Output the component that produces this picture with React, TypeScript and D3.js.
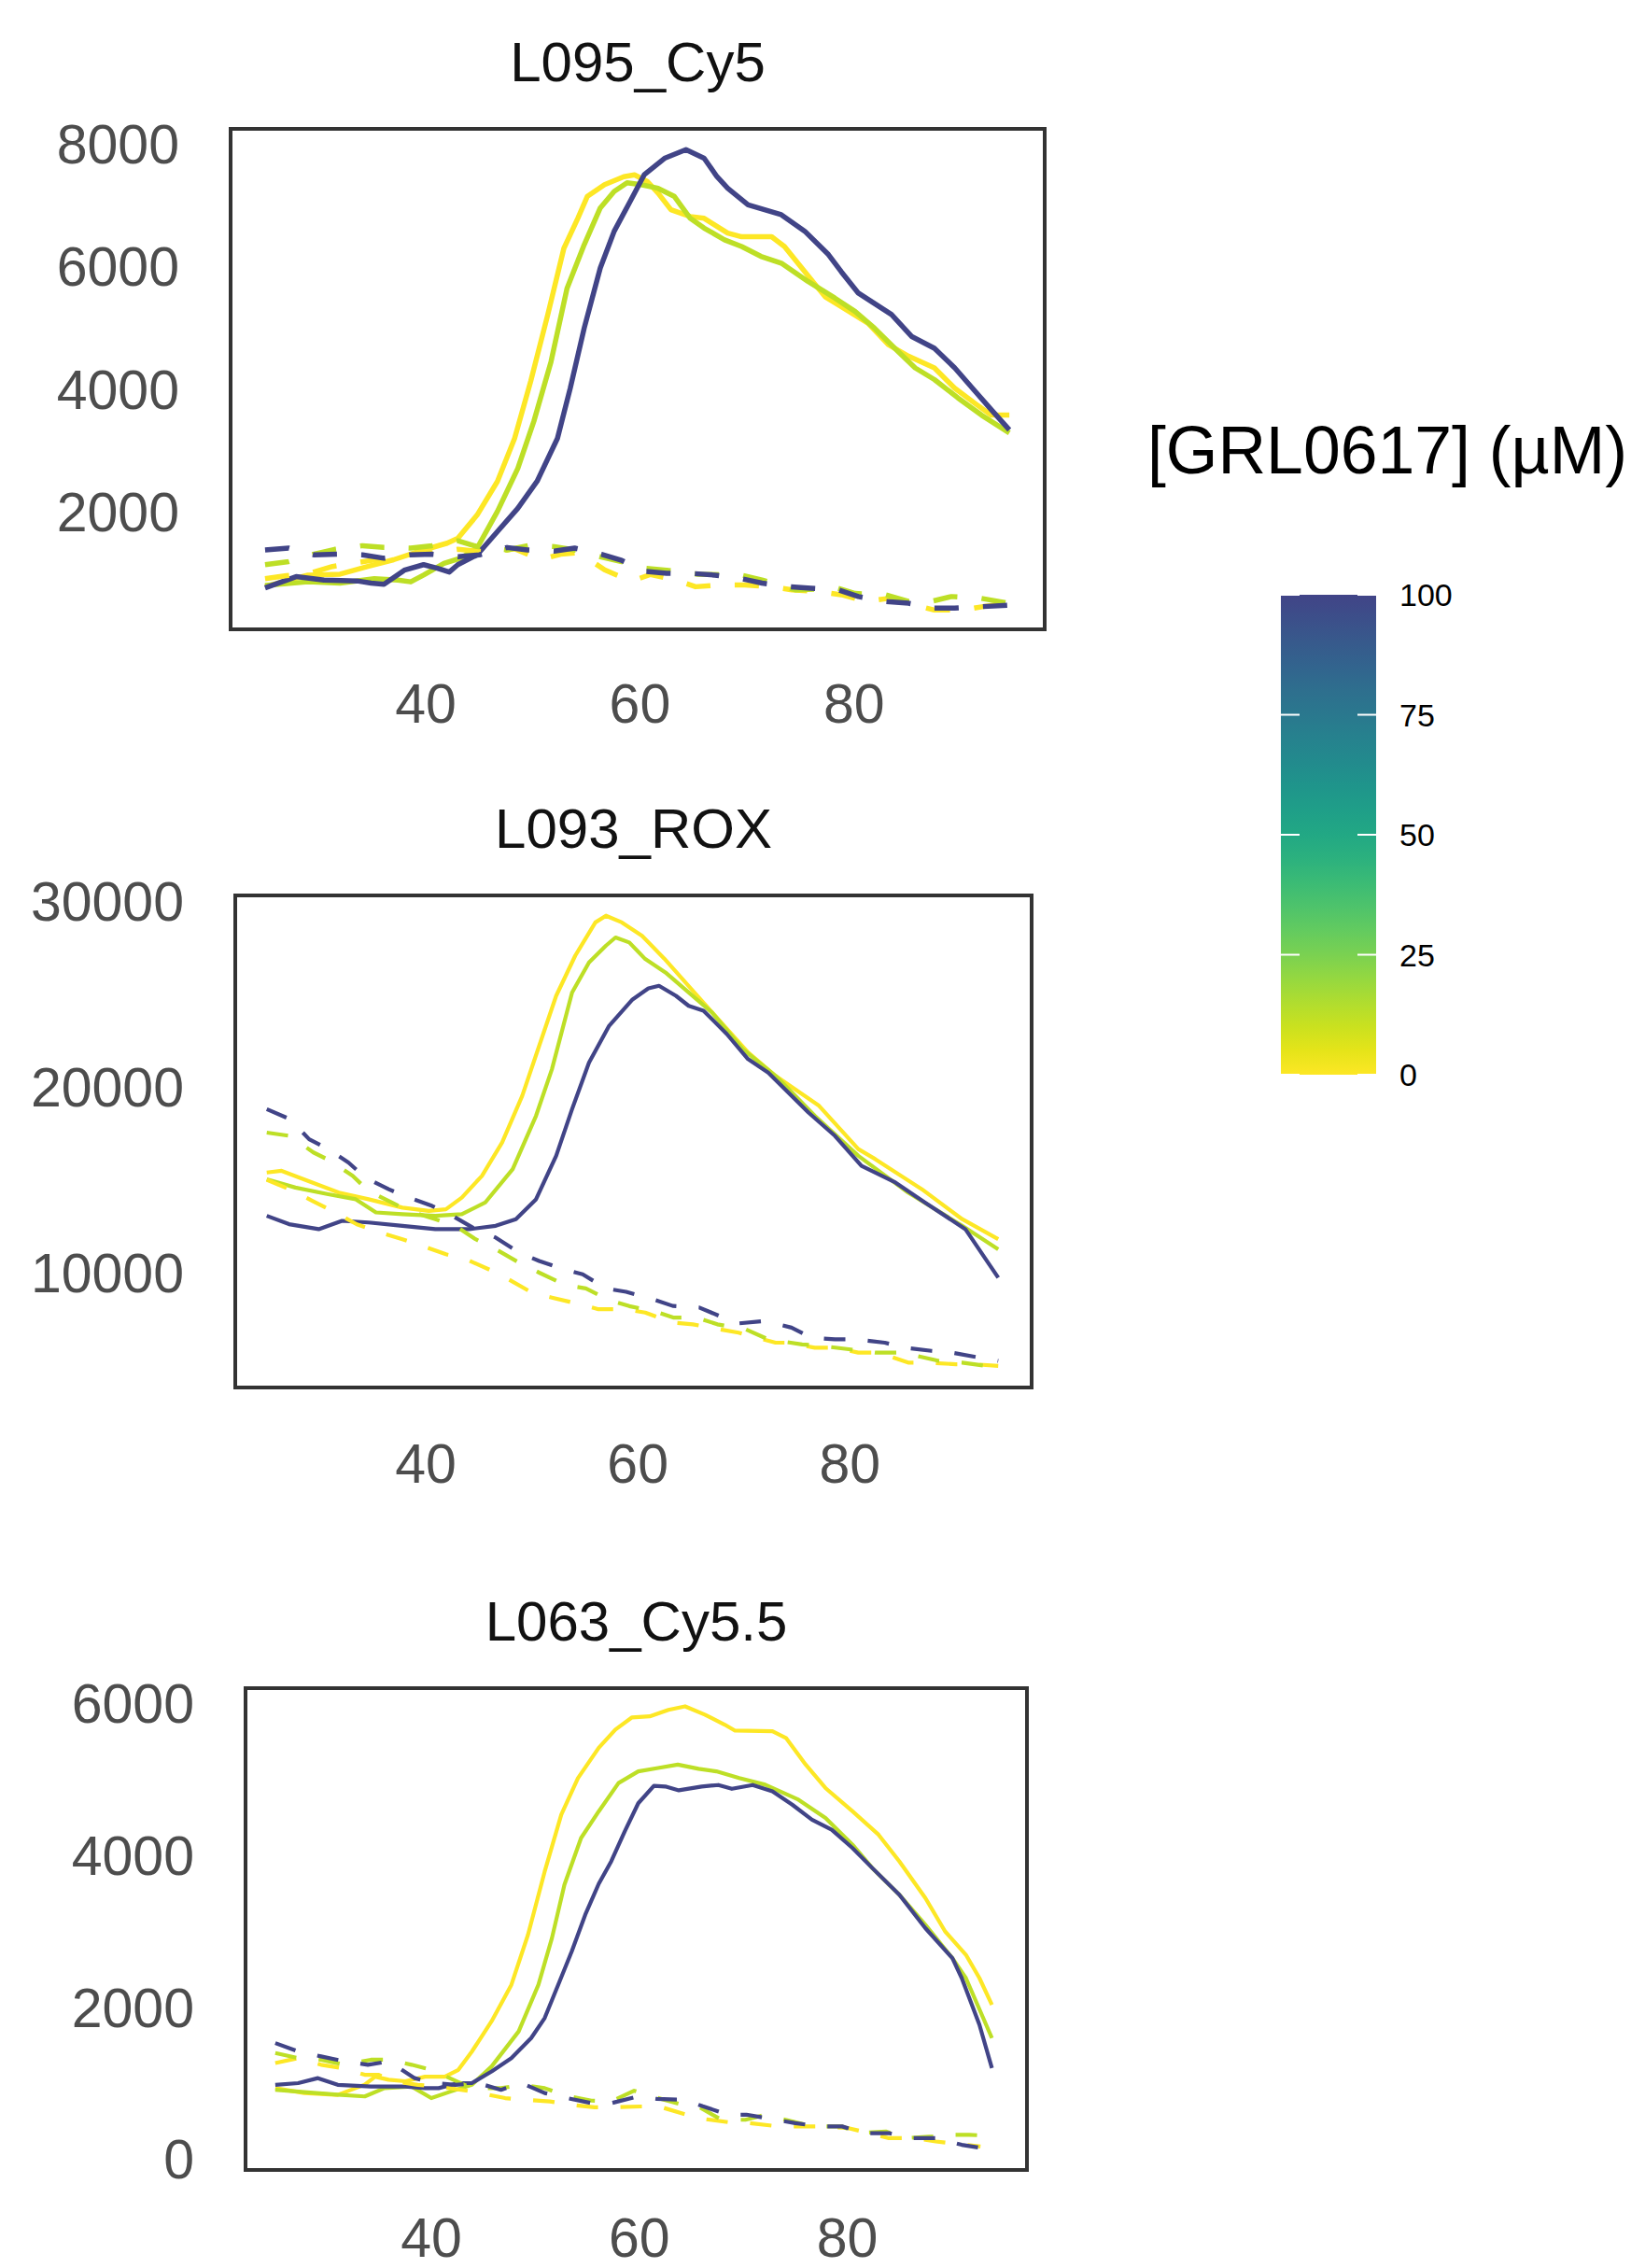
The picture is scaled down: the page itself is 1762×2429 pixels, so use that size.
import React from "react";
import * as d3 from "d3";

// ---------------- DATA ----------------
// concentrations of GRL0617 (µM) shown by colour
const CONCS = [0, 12.5, 100];
const X_TICKS = [40, 60, 80];
const LEGEND_TICKS = [0, 25, 50, 75, 100];
const LEGEND_TITLE = "[GRL0617] (µM)";

// Panel 1: L095_Cy5   [temperature, fluorescence]
const CY5_SOLID_0: [number, number][] = [[25,770],[27,870],[29,960],[32,975],[34.6,1100],[37,1210],[39.8,1370],[42,1480],[43,1560],[44.8,1940],[46.7,2490],[48.3,3190],[49.8,4120],[51.4,5210],[52.9,6290],[54.2,6780],[55.1,7140],[56.7,7330],[58.5,7460],[59.5,7490],[60.7,7380],[61.7,7190],[62.9,6920],[64.7,6810],[66,6780],[68.2,6540],[69.5,6480],[72.3,6480],[73.5,6320],[75.4,5910],[77.3,5500],[78.8,5340],[81.3,5070],[83.2,4720],[85.1,4530],[87.5,4340],[89.4,4010],[91.3,3760],[92.8,3570],[94.5,3570]];
const CY5_SOLID_12: [number, number][] = [[25,790],[29,850],[32,830],[35.2,900],[37.4,880],[38.6,850],[39.8,960],[41.7,1150],[43.3,1240],[44.8,1400],[46.7,2000],[48.6,2700],[50.1,3470],[51.7,4440],[53.2,5640],[54.8,6350],[56.3,6950],[57.6,7220],[58.8,7360],[60.1,7330],[61.7,7270],[63.2,7140],[64.7,6780],[66,6620],[67.9,6430],[69.5,6320],[71.3,6160],[73.2,6050],[75.7,5750],[78.2,5480],[80.1,5260],[81.9,4990],[83.8,4660],[85.7,4340],[87.5,4150],[89.7,3850],[91.9,3570],[94.5,3280]];
const CY5_SOLID_100: [number, number][] = [[25,750],[27.9,935],[30.5,880],[33.6,865],[34.9,830],[36.1,810],[38,1040],[39.8,1130],[41.1,1070],[42.2,1010],[43,1130],[44.8,1290],[46.7,1670],[48.6,2050],[50.4,2490],[52.3,3190],[53.5,4010],[54.8,4990],[56.3,5970],[57.6,6570],[59.1,7060],[60.4,7490],[62.3,7760],[64.3,7900],[66,7760],[67.2,7460],[68.2,7270],[70.1,7000],[73.2,6840],[75.4,6570],[77.6,6190],[78.8,5910],[80.4,5560],[83.5,5210],[85.4,4850],[87.5,4660],[89.4,4340],[91.3,3960],[92.8,3660],[94.5,3330]];
const CY5_DASH_0: [number, number][] = [[25,900],[27,950],[29,980],[31.3,1100],[33,1150],[35,1200],[37,1260],[39,1300],[41,1330],[43,1380],[44.8,1350],[46.4,1340],[48.3,1390],[50.7,1210],[52.6,1300],[54,1320],[55.1,1235],[56.7,1045],[59.2,860],[61,970],[63.3,880],[65.2,770],[67.7,800],[69.8,800],[72.3,770],[74.2,720],[76.7,690],[78.8,640],[81.2,530],[83.2,580],[85.7,470],[87.5,390],[90.2,390],[92.2,450],[94.5,500]];
const CY5_DASH_12: [number, number][] = [[25,1130],[27.2,1180],[29.5,1300],[31.5,1380],[34.1,1440],[36.1,1410],[38.6,1400],[40.6,1440],[43,1520],[44.8,1425],[47.6,1370],[49.8,1450],[52,1425],[53.9,1370],[56.5,1250],[58.3,1180],[60.6,1070],[62.5,1040],[65.4,975],[69.5,960],[71.4,880],[74.5,720],[78.5,745],[80.1,660],[82.9,640],[85.1,530],[87.2,530],[89.1,610],[91.9,580],[94.5,500]];
const CY5_DASH_100: [number, number][] = [[25,1370],[27.2,1400],[29.6,1290],[31.8,1300],[34.1,1290],[36.1,1235],[38.5,1290],[40.6,1300],[43,1260],[45,1290],[47.6,1410],[49.5,1370],[52,1350],[53.9,1400],[56.4,1300],[58.3,1200],[60.5,1020],[62.5,990],[65,985],[67,960],[69.5,900],[71.4,830],[73.9,770],[76,745],[78.5,720],[80.4,610],[82.9,530],[85.1,500],[87.5,420],[89.4,420],[91.9,445],[94.5,470]];

// Panel 2: L093_ROX
const ROX_SOLID_0: [number, number][] = [[25,15390],[26.4,15480],[29.3,14850],[31.8,14310],[34.6,13950],[37.8,13500],[40.3,13320],[41.9,13410],[43.4,14040],[45.3,15210],[47.2,17000],[49.1,19520],[50.7,22210],[52.3,24900],[54.1,27060],[56,28850],[57,29210],[58.5,28850],[60.4,28130],[62.5,26900],[65,25300],[67.5,23700],[70.4,21850],[73,20590],[77.1,18980],[80.8,16650],[82.4,16110],[86.8,14490],[90.6,12880],[94,11800]];
const ROX_SOLID_12: [number, number][] = [[25,15030],[27.7,14580],[30.8,14220],[33.4,13950],[35.3,13240],[37.8,13150],[40.9,13060],[43.4,13150],[45.6,13770],[48.2,15570],[50.4,18440],[51.9,20950],[53.8,25080],[55.4,26700],[57,27600],[57.9,28040],[59.2,27770],[60.7,26880],[62.6,26160],[64.8,25080],[67,24000],[69.9,22030],[73,20590],[76.7,18440],[80.8,16290],[85.5,14310],[90.6,12520],[94,11260]];
const ROX_SOLID_100: [number, number][] = [[25,13060],[27.1,12610],[29.9,12340],[32.1,12790],[34.6,12700],[37.8,12520],[40.9,12340],[44.1,12340],[46.6,12520],[48.5,12880],[50.4,13950],[52.3,16290],[53.8,18800],[55.4,21310],[57.3,23290],[59.5,24700],[61,25300],[62,25440],[63.6,24900],[64.8,24360],[66.2,24100],[68.4,22840],[70.4,21490],[72.3,20770],[76.1,18620],[78.6,17360],[81.1,15750],[84.3,14850],[87.1,13770],[90.9,12340],[94,9730]];
const ROX_DASH_0: [number, number][] = [[25,15000],[27.5,14400],[29.3,13860],[31.2,13320],[33.5,12600],[35.5,12200],[37.8,11800],[39.7,11440],[41.9,10990],[43.8,10720],[46.3,10090],[47.8,9640],[50,8930],[51.9,8660],[54.5,8300],[56.3,8030],[58.9,8030],[60.7,7850],[63.3,7310],[65.2,7220],[67.7,6950],[69.5,6770],[73,6230],[74.2,6230],[76.7,5960],[78.6,5960],[80.8,5700],[82.7,5700],[85.5,5160],[87.4,5160],[90,5070],[91.8,5070],[94,4980]];
const ROX_DASH_12: [number, number][] = [[25,17540],[27.2,17360],[29.4,16470],[31,16020],[33.1,15210],[34.6,14400],[36.8,13770],[38.4,13320],[40.9,12880],[42.8,12520],[44.7,11800],[46.6,11260],[48.8,10540],[50.7,10000],[53.2,9330],[55.1,9150],[57.3,8520],[59.2,8200],[61.7,7900],[63.4,7580],[65.6,7580],[67.5,7220],[70.2,6950],[72.3,6410],[75.5,6140],[77.4,6050],[79.9,5880],[82.4,5700],[84.9,5700],[88.4,5250],[90.6,5160],[94,4890]];
const ROX_DASH_100: [number, number][] = [[25,18800],[27.2,18260],[29,17180],[30.8,16650],[32.7,15930],[34.3,15120],[36.5,14490],[38.4,14040],[40.6,13590],[42.5,13060],[44.7,12340],[46.6,11890],[48.8,11080],[50.7,10630],[53,10180],[54.8,9910],[57,9150],[58.9,8970],[61.4,8570],[63.3,8210],[65.8,8120],[67.7,7670],[69.5,7270],[72,7400],[74.5,7040],[76.4,6500],[78.6,6410],[80.5,6410],[83.3,6230],[85.2,5960],[87.7,5790],[89.6,5700],[92.2,5430],[94,5250]];

// Panel 3: L063_Cy5.5
const CY55_SOLID_0: [number, number][] = [[25,930],[27.8,865],[31,840],[33.6,975],[34.6,1080],[35.9,1040],[37.5,1020],[39.4,1080],[41.3,1080],[42.6,1170],[43.9,1410],[45.8,1810],[47.7,2290],[49.3,2950],[50.9,3780],[52.5,4530],[54.1,5010],[56.1,5410],[57.7,5650],[59.3,5810],[61,5824],[62.8,5910],[64.4,5956],[66.3,5846],[68.2,5715],[69.2,5636],[72.8,5627],[74.1,5539],[76,5188],[77.9,4880],[80.5,4573],[83,4266],[85,3915],[87.5,3432],[89.4,2993],[91.4,2685],[92.7,2378],[93.9,2027]];
const CY55_SOLID_12: [number, number][] = [[25,907],[27.8,877],[31,842],[33.6,820],[35.5,929],[38.1,951],[40,798],[41.9,886],[43.9,973],[45.8,1215],[48.4,1676],[50.3,2290],[51.6,2905],[52.8,3607],[54.4,4222],[56.1,4573],[58,4946],[59.9,5100],[61.8,5144],[63.7,5188],[65.7,5133],[67.4,5100],[69.6,5012],[72.1,4924],[75.3,4727],[77.9,4485],[80.5,4134],[82.4,3827],[85,3476],[87.5,3080],[90.1,2641],[91.4,2378],[93.9,1588]];
const CY55_SOLID_100: [number, number][] = [[25,973],[27.2,995],[29.1,1061],[31,973],[34.2,951],[37.5,951],[39.4,929],[40.7,929],[42.6,995],[43.9,995],[45.8,1149],[47.7,1325],[49.6,1588],[50.9,1852],[52.2,2290],[53.5,2729],[54.8,3212],[56.1,3620],[57.3,3915],[58.6,4310],[59.9,4680],[61.4,4910],[62.5,4900],[63.8,4850],[66,4900],[67.6,4920],[68.9,4870],[70.9,4920],[72.8,4836],[74.7,4661],[76.6,4463],[78.5,4332],[80.5,4090],[82.4,3827],[85,3476],[87.5,3036],[90.1,2641],[91,2378],[92.7,1764],[93.9,1193]];
const CY55_DASH_0: [number, number][] = [[25,1259],[27.2,1325],[29.4,1237],[31.4,1193],[33.6,1105],[34.9,1105],[36.5,1017],[38.7,973],[40.7,951],[43.9,885],[47.1,798],[49,776],[51.4,754],[53.4,710],[55.7,677],[57.6,677],[60.1,688],[61.9,688],[64.8,567],[66.2,524],[68.6,480],[70.6,469],[73.4,425],[77.9,425],[80.1,403],[82.1,337],[84,271],[86.6,271],[88.5,227],[91.4,183],[92.8,161]];
const CY55_DASH_12: [number, number][] = [[25,1391],[27.2,1325],[29.4,1303],[31.7,1237],[34.2,1303],[35.9,1303],[38.1,1237],[40,1171],[43.9,929],[46.7,929],[48.7,973],[50.9,929],[52.9,830],[55.4,765],[57.3,754],[59.5,895],[61.5,810],[63.9,720],[65.5,700],[67.9,513],[70.2,513],[72.1,578],[74.7,491],[76.6,425],[79.5,425],[81.1,337],[83.7,359],[85.6,271],[88.2,293],[89.8,315],[91.7,315],[94,300]];
const CY55_DASH_100: [number, number][] = [[25,1522],[27.2,1413],[29.4,1347],[31.7,1281],[33.9,1237],[35.9,1281],[38.4,1061],[40.3,995],[42.3,973],[44.5,995],[46.7,907],[48.7,995],[50.9,864],[53,800],[55.4,732],[57.3,732],[59.9,820],[61.7,787],[64.4,776],[66.1,690],[68.6,578],[70.3,580],[73.1,513],[75,469],[77.3,425],[79.5,425],[81.7,337],[84,337],[86.2,271],[88.5,271],[91,183],[93,139]];

const CY5_Y_TICKS = [2000, 4000, 6000, 8000];
const ROX_Y_TICKS = [10000, 20000, 30000];
const CY55_Y_TICKS = [0, 2000, 4000, 6000];

// ---------------- LAYOUT ----------------
type Panel = {
  title: string;
  frame: { x0: number; x1: number; y0: number; y1: number };
  xDomain: [number, number];
  yDomain: [number, number];
  yTicks: number[];
  xLabelOffset: number;
  lw: number;
  dash: string;
  solid: [number, number][][];
  dashed: [number, number][][];
};

const PANELS: Panel[] = [
  {
    title: "L095_Cy5",
    frame: { x0: 247, x1: 1119, y0: 138, y1: 674 },
    xDomain: [21.78, 97.8],
    yDomain: [75, 8240],
    yTicks: CY5_Y_TICKS,
    xLabelOffset: 100,
    lw: 5.5,
    dash: "26,26",
    solid: [CY5_SOLID_0, CY5_SOLID_12, CY5_SOLID_100],
    dashed: [CY5_DASH_0, CY5_DASH_12, CY5_DASH_100],
  },
  {
    title: "L093_ROX",
    frame: { x0: 252, x1: 1105, y0: 959, y1: 1486 },
    xDomain: [22.03, 97.15],
    yDomain: [3819, 30302],
    yTicks: ROX_Y_TICKS,
    xLabelOffset: 102,
    lw: 4.2,
    dash: "23,24",
    solid: [ROX_SOLID_0, ROX_SOLID_12, ROX_SOLID_100],
    dashed: [ROX_DASH_0, ROX_DASH_12, ROX_DASH_100],
  },
  {
    title: "L063_Cy5.5",
    frame: { x0: 263, x1: 1100, y0: 1808, y1: 2324 },
    xDomain: [22.14, 97.27],
    yDomain: [-148, 6195],
    yTicks: CY55_Y_TICKS,
    xLabelOffset: 93,
    lw: 4.2,
    dash: "23,24",
    solid: [CY55_SOLID_0, CY55_SOLID_12, CY55_SOLID_100],
    dashed: [CY55_DASH_0, CY55_DASH_12, CY55_DASH_100],
  },
];

const FONT = "'Liberation Sans', Arial, Helvetica, sans-serif";
const colorScale = (c: number) => d3.interpolateViridis(1 - 0.8 * (c / 100));

function PanelView({ p }: { p: Panel }) {
  const { frame } = p;
  const x = d3.scaleLinear().domain(p.xDomain).range([frame.x0, frame.x1]);
  const y = d3.scaleLinear().domain(p.yDomain).range([frame.y1, frame.y0]);
  const line = d3
    .line<[number, number]>()
    .x((d) => x(d[0]))
    .y((d) => y(d[1]))
    .curve(d3.curveLinear);
  const cx = (frame.x0 + frame.x1) / 2;
  const cid = `clip-${p.title.replace(/\W/g, "")}`;
  return (
    <g>
      <text x={cx} y={frame.y0 - 51} textAnchor="middle" fontSize={60} fill="#111" fontFamily={FONT}>
        {p.title}
      </text>
      <defs>
        <clipPath id={cid}>
          <rect x={frame.x0} y={frame.y0} width={frame.x1 - frame.x0} height={frame.y1 - frame.y0} />
        </clipPath>
      </defs>
      <g clipPath={`url(#${cid})`}>
        {p.solid.map((s, i) => (
          <path key={"s" + i} d={line(s) || ""} fill="none" stroke={colorScale(CONCS[i])} strokeWidth={p.lw} strokeLinejoin="round" />
        ))}
        {p.dashed.map((s, i) => (
          <path key={"d" + i} d={line(s) || ""} fill="none" stroke={colorScale(CONCS[i])} strokeWidth={p.lw} strokeDasharray={p.dash} strokeLinejoin="round" />
        ))}
      </g>
      <rect x={frame.x0} y={frame.y0} width={frame.x1 - frame.x0} height={frame.y1 - frame.y0} fill="none" stroke="#333" strokeWidth={4} />
      {p.yTicks.map((t) => (
        <text key={"y" + t} x={frame.x0 - 55} y={y(t)} dy="0.36em" textAnchor="end" fontSize={59} fill="#4d4d4d" fontFamily={FONT}>
          {t}
        </text>
      ))}
      {X_TICKS.map((t) => (
        <text key={"x" + t} x={x(t)} y={frame.y1 + p.xLabelOffset} textAnchor="middle" fontSize={59} fill="#4d4d4d" fontFamily={FONT}>
          {t}
        </text>
      ))}
    </g>
  );
}

function Legend() {
  const bar = { x0: 1372, x1: 1474, y0: 637, y1: 1151 };
  const ly = d3.scaleLinear().domain([0, 100]).range([bar.y1, bar.y0]);
  const stops = d3.range(0, 101, 5);
  return (
    <g>
      <text x={1229} y={507} fontSize={71.5} fill="#000" fontFamily={FONT}>
        {LEGEND_TITLE}
      </text>
      <defs>
        <linearGradient id="vgrad" x1="0" y1="1" x2="0" y2="0">
          {stops.map((s) => (
            <stop key={s} offset={`${s}%`} stopColor={colorScale(s)} />
          ))}
        </linearGradient>
      </defs>
      <rect x={bar.x0} y={bar.y0} width={bar.x1 - bar.x0} height={bar.y1 - bar.y0} fill="url(#vgrad)" />
      {LEGEND_TICKS.map((t) => (
        <g key={t}>
          <line x1={bar.x0} x2={bar.x0 + 20} y1={ly(t)} y2={ly(t)} stroke="#fff" strokeWidth={2} />
          <line x1={bar.x1 - 20} x2={bar.x1} y1={ly(t)} y2={ly(t)} stroke="#fff" strokeWidth={2} />
          <text x={1499} y={ly(t)} dy="0.36em" fontSize={34} fill="#000" fontFamily={FONT}>
            {t}
          </text>
        </g>
      ))}
    </g>
  );
}

export default function App() {
  return (
    <svg
      width={1762}
      height={2429}
      style={{ position: "absolute", left: 0, top: 0, background: "#fff" }}
      xmlns="http://www.w3.org/2000/svg"
    >
      <rect x={0} y={0} width={1762} height={2429} fill="#fff" />
      {PANELS.map((p) => (
        <PanelView key={p.title} p={p} />
      ))}
      <Legend />
    </svg>
  );
}
